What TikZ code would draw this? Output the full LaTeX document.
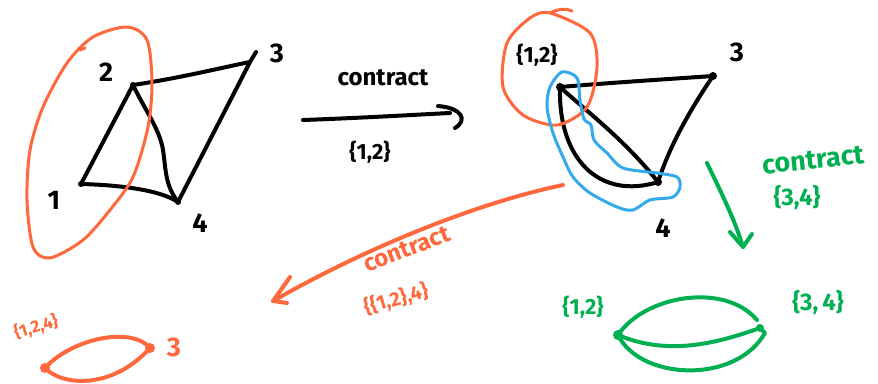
\documentclass[tikz,border=0pt]{standalone}
\usepackage{fontspec}
\setmainfont{Fira Sans}
\definecolor{penorange}{RGB}{255,104,60}
\definecolor{pengreen}{RGB}{0,176,80}
\definecolor{penblue}{RGB}{52,170,236}
\begin{document}
\begin{tikzpicture}[x=1pt,y=-1pt,
  stroke/.style={line width=4pt,line cap=round,line join=round},
  thin stroke/.style={line width=3pt,line cap=round,line join=round},
  digit/.style={inner sep=0pt,font=\fontsize{27}{29}\selectfont\bfseries},
  setlbl/.style={inner sep=0pt,font=\fontsize{22}{24}\selectfont\bfseries},
  verb/.style={inner sep=0pt,font=\fontsize{24}{26}\selectfont\bfseries}]
\useasboundingbox (0,0) rectangle (878,383);

% ---------- original graph ----------
\coordinate (a1) at (81,184);
\coordinate (a2) at (133,85);
\coordinate (a3) at (250,62);
\coordinate (a4) at (178,202);
\begin{scope}[stroke]
  \draw (a2) .. controls (180,78) and (220,68) .. (a3);
  \draw (a3) -- (256,52);
  \draw (a2) -- (a1);
  \draw (a1) .. controls (120,185) and (160,190) .. (a4);
  \draw (a2) .. controls (145,110) and (160,130) .. (163,150)
             .. controls (166,170) and (165,185) .. (a4);
  \draw (a3) -- (a4);
\end{scope}
\fill (a1) circle (3pt) (a2) circle (3pt) (a4) circle (3pt);
\node[digit] (n2) at (106,72) {2};
\node[digit] (n3) at (277,53) {3};
\node[digit] (n1) at (54,200) {1};
\node[digit] (n4) at (200,223) {4};
% group {1,2}
\draw[penorange,thin stroke] plot[smooth cycle] coordinates {
  (127,27) (147,40) (152,83) (148,127) (133,177) (110,210) (83,240)
  (50,258) (33,247) (27,200) (30,150) (43,107) (67,63) (93,37)};
\draw[penorange,thin stroke] (80,50) -- (85,48);

% ---------- first contraction arrow ----------
\coordinate (b0) at (303,120);
\coordinate (b1) at (450,113);
\draw[stroke] (b0) .. controls (360,118) and (410,115) .. (b1);
\draw[stroke] (438,106) .. controls (462,108) and (468,120) .. (455,128);
\node[verb] (c1) at (383,78) {contract};
\node[setlbl] (s1) at (370,152) {\{1,2\}};

% ---------- graph after contracting {1,2} ----------
\coordinate (m12) at (560,87);
\coordinate (m3) at (713,76);
\coordinate (m4) at (658,182);
\begin{scope}[stroke]
  \draw (m12) .. controls (620,82) and (670,79) .. (m3);
  \draw (m3) .. controls (690,110) and (670,145) .. (m4);
  \draw (m12) .. controls (585,110) and (625,140) .. (m4);
  \draw (m12) .. controls (558,160) and (600,200) .. (m4);
\end{scope}
\fill (m12) circle (4pt) (m3) circle (4pt) (m4) circle (4pt);
\node[setlbl] (l12) at (537,55) {\{1,2\}};
\node[digit] (l3) at (737,52) {3};
\node[digit] (l4) at (663,228) {4};
% merged vertex
\draw[penorange,thin stroke] plot[smooth cycle] coordinates {
  (550,13) (590,33) (597,67) (587,107) (557,125) (523,115) (503,87)
  (507,43) (530,18)};
\draw[penorange,thin stroke] (550,13) .. controls (558,9) and (566,8) .. (572,11);
% parallel edges {3,4}
\draw[penblue,thin stroke] plot[smooth cycle] coordinates {
  (562,72) (577,78) (580,100) (584,119) (591,125) (594,140) (607,153)
  (623,168) (657,173) (677,177) (680,187) (673,197) (650,200) (633,210)
  (617,207) (590,193) (573,177) (563,157) (553,133) (547,107) (550,87)};

% ---------- contract {3,4} (green) ----------
\coordinate (g0) at (707,163);
\coordinate (g1) at (743,247);
\draw[pengreen,stroke] (g0) .. controls (720,190) and (735,220) .. (g1);
\draw[pengreen,stroke] (730,232) -- (g1) -- (752,234);
\node[verb,pengreen,rotate=6,font=\fontsize{27}{29}\selectfont\bfseries] (c2) at (813,160) {contract};
\node[setlbl,pengreen,font=\fontsize{24}{26}\selectfont\bfseries] (s2) at (797,198) {\{3,4\}};

\coordinate (gl) at (618,335);
\coordinate (gr) at (760,328);
\begin{scope}[pengreen,stroke]
  \draw (gl) .. controls (645,295) and (725,282) .. (757,320);
  \draw (gl) .. controls (670,357) and (720,342) .. (gr);
  \draw (gl) .. controls (640,380) and (735,385) .. (765,333) -- (gr);
\end{scope}
\fill[pengreen] (gl) circle (5pt) (gr) circle (4pt);
\node[setlbl,pengreen] (g12) at (583,307) {\{1,2\}};
\node[setlbl,pengreen,font=\fontsize{24}{26}\selectfont\bfseries] (g34) at (818,303) {\{3,\,4\}};

% ---------- contract {{1,2},4} (orange) ----------
\coordinate (o0) at (563,185);
\coordinate (o1) at (273,301);
\draw[penorange,stroke] (o0) .. controls (490,200) and (380,240) .. (o1);
\draw[penorange,stroke] (290,277) -- (o1) -- (287,303);
\node[verb,penorange,rotate=21] (c3) at (407,249) {contract};
\node[setlbl,penorange,rotate=16,font=\fontsize{20}{22}\selectfont\bfseries] (s3) at (396,299) {\{\{1,2\},4\}};

\coordinate (p124) at (45,368);
\coordinate (p3) at (150,348);
\begin{scope}[penorange,stroke]
  \draw (p124) .. controls (70,340) and (130,325) .. (p3);
  \draw (p124) .. controls (62,386) and (112,390) .. (p3);
\end{scope}
\fill[penorange] (p124) circle (5pt) (p3) circle (5pt);
\node[setlbl,penorange,rotate=17,font=\fontsize{17}{19}\selectfont\bfseries] (q124) at (36,327) {\{1,2,4\}};
\node[digit,penorange] (q3) at (174,347) {3};
\end{tikzpicture}
\end{document}
